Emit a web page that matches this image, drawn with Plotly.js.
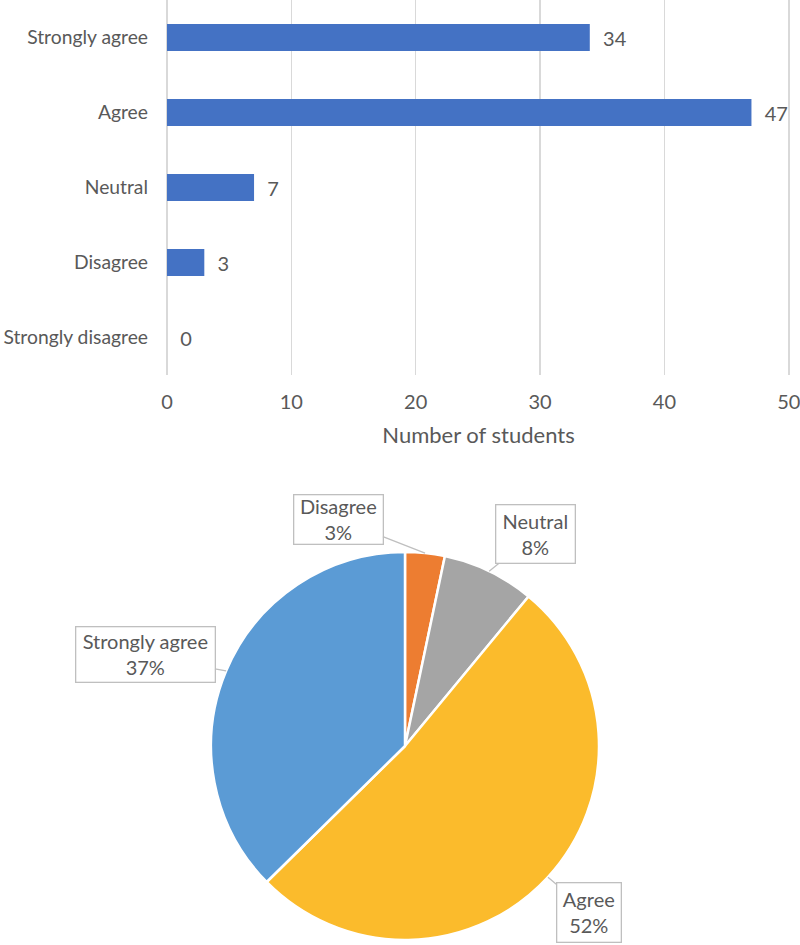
<!DOCTYPE html>
<html>
<head>
<meta charset="utf-8">
<script src="https://cdn.plot.ly/plotly-3.0.1.min.js"></script>
<style>html,body{margin:0;padding:0;background:#fff;}#chart{width:800px;height:945px;}</style>
</head>
<body>
<div id="chart"></div>
<script>
// ---- data ----
var categories = ["Strongly disagree", "Disagree", "Neutral", "Agree", "Strongly agree"];
var counts = [0, 3, 7, 47, 34];
var xTicks = [0, 10, 20, 30, 40, 50];
var pieColors = ["#4472C4", "#ED7D31", "#A5A5A5", "#FBBB2C", "#5B9BD5"];

// ---- styling / layout config (not data) ----
var FONT = "Lato, 'Open Sans', sans-serif";
var TXT = "#595959";
var W = 800, H = 945;
var barDomainX = [167 / W, 790 / W];
var barDomainY = [1 - 375 / H, 1];
var pieDomainX = [211 / W, 599 / W];
var pieDomainY = [1 - 940 / H, 1 - 552 / H];
// callout offsets (px) from slice tip to box centre, and box sizes
var callout = {
  "Disagree": {ax: -87, ay: -34, w: 88, h: 48},
  "Neutral": {ax: 46, ay: -37, w: 78, h: 57},
  "Agree": {ax: 41, ay: 35, w: 63, h: 58},
  "Strongly agree": {ax: -81, ay: -16, w: 138, h: 54}
};

var barTrace = {
  type: "bar",
  orientation: "h",
  y: categories,
  x: counts,
  xaxis: "x", yaxis: "y",
  marker: {color: "#4472C4"},
  width: 0.36,
  texttemplate: "\u00a0\u00a0%{x}",
  textposition: "outside",
  textfont: {family: FONT, size: 20, color: TXT},
  cliponaxis: false,
  hoverinfo: "skip"
};

var pieTrace = {
  type: "pie",
  labels: categories,
  values: counts,
  sort: false,
  direction: "clockwise",
  rotation: 0,
  domain: {x: pieDomainX, y: pieDomainY},
  marker: {colors: pieColors, line: {color: "#ffffff", width: 2.5}},
  textinfo: "none",
  hoverinfo: "skip",
  showlegend: false
};

// compute callout tips from the pie's own geometry
var total = counts.reduce(function (a, b) { return a + b; }, 0);
var cxPx = (pieDomainX[0] + pieDomainX[1]) / 2 * W;
var cyPx = (1 - (pieDomainY[0] + pieDomainY[1]) / 2) * H;
var rPx = Math.min((pieDomainX[1] - pieDomainX[0]) * W, (pieDomainY[1] - pieDomainY[0]) * H) / 2;
var annotations = [];
var cum = 0;
for (var i = 0; i < categories.length; i++) {
  var v = counts[i];
  if (v > 0) {
    var mid = (cum + v / 2) / total * 2 * Math.PI;
    var tx = cxPx + rPx * Math.sin(mid);
    var ty = cyPx - rPx * Math.cos(mid);
    var c = callout[categories[i]];
    annotations.push({
      xref: "paper", yref: "paper",
      x: tx / W, y: 1 - ty / H,
      ax: c.ax, ay: c.ay,
      showarrow: true, arrowhead: 0, arrowwidth: 1.3, arrowcolor: "#BFBFBF", standoff: 0,
      text: categories[i] + "<br>" + Math.round(v / total * 100) + "%",
      font: {family: FONT, size: 20, color: TXT},
      bgcolor: "#ffffff", bordercolor: "#BFBFBF", borderwidth: 1.3, borderpad: 0,
      width: c.w, height: c.h, align: "center", valign: "middle"
    });
  }
  cum += v;
}

var layout = {
  width: W, height: H,
  margin: {l: 0, r: 0, t: 0, b: 0},
  paper_bgcolor: "#ffffff", plot_bgcolor: "#ffffff",
  showlegend: false,
  font: {family: FONT, color: TXT},
  xaxis: {
    domain: barDomainX, anchor: "y",
    range: [0, 50.1], tickvals: xTicks,
    showgrid: true, gridcolor: "#D9D9D9", gridwidth: 1.5,
    zeroline: true, zerolinecolor: "#D9D9D9", zerolinewidth: 1.5,
    showline: false, ticks: "",
    tickfont: {family: FONT, size: 20, color: TXT},
    ticklabelstandoff: 13,
    ticklabeloverflow: "allow",
    title: {text: "Number of students", font: {family: FONT, size: 22, color: TXT}, standoff: 15}
  },
  yaxis: {
    domain: barDomainY, anchor: "x",
    type: "category", categoryorder: "array", categoryarray: categories,
    showgrid: false, zeroline: false, showline: false, ticks: "",
    tickfont: {family: FONT, size: 19.3, color: TXT},
    ticklabelstandoff: 18
  },
  annotations: annotations
};

Plotly.newPlot("chart", [barTrace, pieTrace], layout, {displayModeBar: false, staticPlot: true});
</script>
</body>
</html>
